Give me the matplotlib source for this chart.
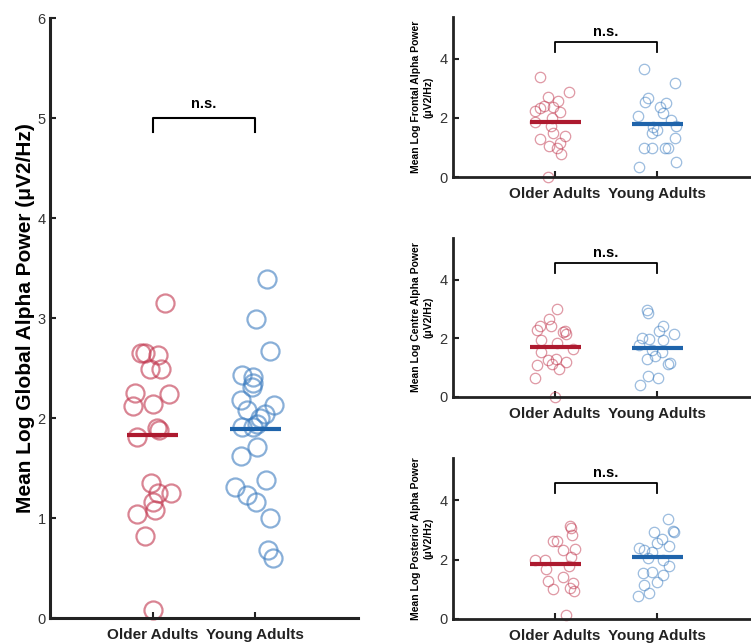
import numpy as np
import matplotlib
matplotlib.use("Agg")
import matplotlib.pyplot as plt

plt.rcParams['font.family'] = ['Liberation Sans', 'DejaVu Sans']

groups = ["Older Adults", "Young Adults"]

# ---- Global (main panel) ----
global_older = [3.15, 2.65, 2.65, 2.63, 2.49, 2.49, 2.25, 2.24, 2.12, 2.14, 1.90,
                1.88, 1.81, 1.35, 1.25, 1.25, 1.16, 1.08, 1.04, 0.82, 0.08]
global_older_jit = [0.12, -0.11, -0.07, 0.05, -0.03, 0.08, -0.17, 0.16, -0.19, 0.0, 0.04,
                    0.06, -0.15, -0.02, 0.05, 0.18, 0.0, 0.02, -0.15, -0.07, 0.0]
global_young = [3.39, 2.99, 2.67, 2.43, 2.41, 2.35, 2.31, 2.18, 2.13, 2.08, 2.04, 2.00,
                1.91, 1.91, 1.94, 1.71, 1.62, 1.38, 1.31, 1.23, 1.16, 1.00, 0.68, 0.60]
global_young_jit = [0.11, 0.01, 0.14, -0.13, -0.02, -0.02, -0.03, -0.14, 0.18, -0.08, 0.09, 0.05,
                    -0.13, -0.02, 0.02, 0.02, -0.14, 0.10, -0.20, -0.08, 0.01, 0.14, 0.12, 0.17]
global_means = [1.83, 1.89]

# ---- Frontal ----
frontal_older = [3.38, 2.87, 2.72, 2.59, 2.41, 2.34, 2.36, 2.25, 2.21, 1.99, 1.88,
                 1.73, 1.48, 1.39, 1.29, 1.14, 1.05, 0.97, 0.78, 0.01]
frontal_older_jit = [-0.15, 0.14, -0.07, 0.03, -0.11, -0.15, -0.02, -0.20, 0.05, -0.03, -0.20,
                     -0.04, -0.02, 0.10, -0.15, 0.05, -0.06, 0.02, 0.06, -0.07]
frontal_young = [3.66, 3.18, 2.67, 2.55, 2.52, 2.38, 2.16, 2.07, 1.93, 1.71, 1.73,
                 1.60, 1.48, 1.31, 0.97, 0.97, 0.97, 0.97, 0.52, 0.35]
frontal_young_jit = [-0.13, 0.18, -0.09, -0.12, 0.09, 0.03, 0.06, -0.19, 0.14, -0.04, 0.19,
                     0.0, -0.05, 0.18, -0.13, -0.05, 0.08, 0.11, 0.19, -0.18]
frontal_means = [1.85, 1.80]

# ---- Centre ----
centre_older = [3.01, 2.67, 2.41, 2.41, 2.27, 2.25, 2.16, 2.20, 1.96, 1.84, 1.62,
                1.54, 1.31, 1.26, 1.18, 1.08, 1.12, 0.94, 0.65, 0.00]
centre_older_jit = [0.02, -0.06, -0.15, -0.04, -0.18, 0.10, 0.11, 0.08, -0.14, 0.02, 0.18,
                    -0.14, 0.01, -0.07, 0.11, -0.18, -0.03, 0.04, -0.20, 0.0]
centre_young = [2.95, 2.87, 2.41, 2.24, 2.16, 2.02, 1.99, 1.93, 1.76, 1.59, 1.54,
                1.39, 1.31, 1.14, 1.16, 0.71, 0.65, 0.41]
centre_young_jit = [-0.10, -0.09, 0.06, 0.02, 0.17, -0.15, -0.08, 0.06, -0.18, -0.05, 0.05,
                    -0.02, -0.10, 0.11, 0.13, -0.09, 0.01, -0.17]
centre_means = [1.70, 1.68]

# ---- Posterior ----
posterior_older = [3.13, 3.08, 2.82, 2.62, 2.62, 2.34, 2.32, 2.09, 2.00, 2.00,
                   1.78, 1.67, 1.42, 1.29, 1.22, 1.00, 1.03, 0.95, 0.13]
posterior_older_jit = [0.15, 0.16, 0.17, 0.02, -0.02, 0.20, 0.08, 0.16, -0.20, -0.10,
                       0.14, -0.09, 0.08, -0.07, 0.18, -0.02, 0.15, 0.19, 0.11]
posterior_young = [3.35, 2.96, 2.94, 2.93, 2.68, 2.56, 2.45, 2.38, 2.32, 2.26,
                   2.07, 1.98, 1.78, 1.54, 1.59, 1.48, 1.23, 1.14, 0.86, 0.77]
posterior_young_jit = [0.11, 0.16, 0.17, -0.03, 0.05, 0.0, 0.12, -0.18, -0.13, -0.05,
                       -0.09, 0.06, 0.12, -0.14, -0.05, 0.06, 0.0, -0.13, -0.08, -0.19]
posterior_means = [1.85, 2.08]

RED = '#c0334b'
BLUE = '#3a7bbf'
RED_M = '#ad1a2f'
BLUE_M = '#1f64ab'
TICKC = '#333333'

fig = plt.figure(figsize=(7.51, 6.44), dpi=100)


def style_axes(ax, ymax, yticks, spine_lw, tick_pad):
    ax.set_xlim(0, 3)
    ax.set_ylim(0, ymax)
    for s in ['top', 'right']:
        ax.spines[s].set_visible(False)
    for s in ['left', 'bottom']:
        ax.spines[s].set_linewidth(spine_lw)
        ax.spines[s].set_color('#222222')
    ax.set_yticks(yticks)
    ax.set_xticks([1, 2])
    ax.set_xticklabels(groups, fontweight='bold', fontsize=11, color='#222222')
    ax.tick_params(axis='both', direction='in', length=4, width=1.5, colors='#222222')
    ax.tick_params(axis='y', labelsize=10.5, labelcolor=TICKC, pad=tick_pad)
    ax.tick_params(axis='x', pad=7)


def draw_group(ax, vals, jit, center, color, ms, mlw, alpha):
    x = center + np.array(jit)
    ax.plot(x, vals, 'o', ms=ms, mfc='none', mec=color, mew=mlw, alpha=alpha, clip_on=False)


def draw_panel(ax, older, ojit, young, yjit, means, ms, mlw, alpha, mean_lw):
    draw_group(ax, older, ojit, 1, RED, ms, mlw, alpha)
    draw_group(ax, young, yjit, 2, BLUE, ms, mlw, alpha)
    ax.plot([0.75, 1.25], [means[0]] * 2, color=RED_M, lw=mean_lw, solid_capstyle='butt')
    ax.plot([1.75, 2.25], [means[1]] * 2, color=BLUE_M, lw=mean_lw, solid_capstyle='butt')


def bracket(ax, y, tip, text_y, lw):
    ax.plot([1, 1, 2, 2], [tip, y, y, tip], color='black', lw=lw, clip_on=False)
    ax.text(1.5, text_y, 'n.s.', ha='center', va='center', fontweight='bold', fontsize=10.5)


# main panel
ax0 = fig.add_axes([50 / 751, 26 / 644, 308 / 751, 600 / 644])
style_axes(ax0, 6, [0, 1, 2, 3, 4, 5, 6], 2.2, 3)
draw_panel(ax0, global_older, global_older_jit, global_young, global_young_jit,
           global_means, 13, 1.6, 0.6, 3.0)
bracket(ax0, 5.0, 4.86, 5.14, 1.5)
ax0.set_ylabel('Mean Log Global Alpha Power (μV2/Hz)', fontweight='bold', fontsize=15,
               va='center')
ax0.yaxis.set_label_coords(-0.08, 0.5)

# small panels
small_specs = [
    (177, 17, frontal_older, frontal_older_jit, frontal_young, frontal_young_jit, frontal_means,
     'Mean Log Frontal Alpha Power\n(μV2/Hz)'),
    (397, 238, centre_older, centre_older_jit, centre_young, centre_young_jit, centre_means,
     'Mean Log Centre Alpha Power\n(μV2/Hz)'),
    (619, 458, posterior_older, posterior_older_jit, posterior_young, posterior_young_jit,
     posterior_means, 'Mean Log Posterior Alpha Power\n(μV2/Hz)'),
]
for y0, ytop, o, oj, yv, yj, m, lab in small_specs:
    h = y0 - ytop
    ax = fig.add_axes([453 / 751, (644 - y0) / 644, 306 / 751, h / 644])
    style_axes(ax, 5.42, [0, 2, 4], 2.0, 4)
    draw_panel(ax, o, oj, yv, yj, m, 7.5, 0.9, 0.5, 3.0)
    bracket(ax, 4.58, 4.24, 4.9, 1.3)
    ax.set_ylabel(lab, fontweight='bold', fontsize=7.5, va='center', linespacing=1.35)
    ax.yaxis.set_label_coords(-0.101, 0.5)

fig.savefig('out.png', dpi=100)
